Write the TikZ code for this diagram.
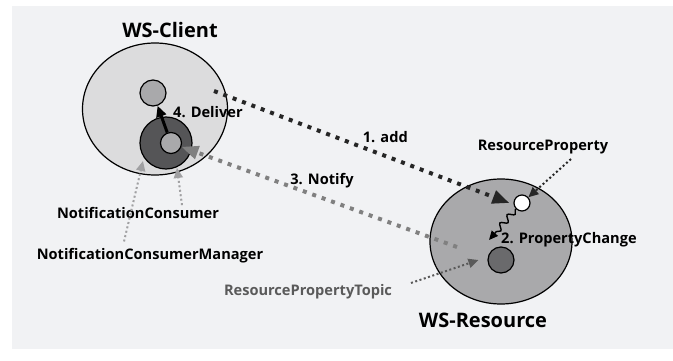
\documentclass[tikz,border=0pt]{standalone}
\usepackage{fontspec}
\setmainfont{Open Sans}
\usetikzlibrary{arrows.meta,shapes.geometric,decorations.pathmorphing,calc}

\definecolor{paper}{RGB}{241,242,244}
\definecolor{clientgray}{RGB}{220,220,221}
\definecolor{resgray}{RGB}{169,169,171}
\definecolor{ringgray}{RGB}{85,85,87}
\definecolor{topicgray}{RGB}{106,106,108}
\definecolor{notifygray}{RGB}{128,128,128}
\definecolor{hintgray}{RGB}{160,160,162}
\definecolor{textgray}{RGB}{90,90,90}

\tikzset{
    lbl/.style={font=\bfseries\fontsize{14.6}{16}\selectfont, inner sep=1pt},
    title/.style={font=\bfseries\fontsize{20}{22}\selectfont, inner sep=1pt},
    blob/.style={circle, draw=black, line width=1.2pt, inner sep=0pt},
    bigdots/.style={line width=4pt, dash pattern=on 4pt off 6pt,
        -{Triangle[length=17pt,width=13pt]}},
    smalldots/.style={line width=2pt, dash pattern=on 2pt off 2.5pt,
        -{Triangle[length=10pt,width=9pt]}},
}

\begin{document}
\begin{tikzpicture}[x=1pt,y=-1pt]
    \useasboundingbox (0,0) rectangle (673,361);
    \fill[paper] (12,6) rectangle (673,349);

    % Containers
    \node[ellipse, draw, line width=1.2pt, fill=clientgray,
        minimum width=145pt, minimum height=132pt] (client) at (155,109) {};
    \node[ellipse, draw, line width=1.2pt, fill=resgray,
        minimum width=142pt, minimum height=125pt] (resource) at (501,241.5) {};

    % Circles
    \node[blob, fill=resgray, minimum size=26pt] (clientobj) at (153,93) {};
    \node[blob, fill=ringgray, minimum size=52pt] (consumer) at (166,143) {};
    \node[blob, fill=resgray, minimum size=21pt] (consumerin) at (171,143) {};
    \node[blob, fill=white, minimum size=16pt] (resprop) at (522,203) {};
    \node[blob, fill=topicgray, minimum size=26pt] (topic) at (501,260) {};

    % Labels
    \node[title] (lblclient) at (170,30) {WS-Client};
    \node[title] (lblresource) at (483,320) {WS-Resource};
    \node[lbl] (lblconsumer) at (138,213) {NotificationConsumer};
    \node[lbl] (lblmanager) at (150,256) {NotificationConsumerManager};
    \node[lbl] (lblresprop) at (543,147) {ResourceProperty};
    \node[lbl, text=textgray] (lbltopic) at (308,292) {ResourcePropertyTopic};
    \node[lbl, anchor=west] (lbldeliver) at (172,112) {4. Deliver};
    \node[lbl, anchor=west] (lblchange) at (500,240) {2. PropertyChange};

    \coordinate (addstart) at (214,91);
    \coordinate (notifystart) at (457,247);
    \coordinate (changeend) at (489,240);
    \coordinate (rptail) at (571,159);
    \coordinate (topictail) at (411,283);
    \coordinate (mgrtail) at ($(lblmanager.north)+(-26,-6)$);
    \coordinate (constail) at ($(lblconsumer.north)+(44,-1)$);
    \coordinate (mgrtip) at (143,161);
    \coordinate (constip) at (177,168);

    % Messages
    \draw[bigdots, notifygray] (notifystart) -- (consumerin)
        node[lbl, text=black, pos=.49, above=7pt] (lblnotify) {3. Notify};
    \draw[bigdots, black!85] (addstart) -- ([xshift=-4pt]resprop.west)
        node[lbl, text=black, pos=.58, above=10pt] (lbladd) {1. add};
    \draw[line width=3pt, -{Triangle[length=11pt,width=10pt]}]
        (consumerin) -- (clientobj);
    \draw[line width=1.4pt, -{Triangle[length=9pt,width=8pt]},
        decorate, decoration={snake, amplitude=3pt, segment length=11pt,
        pre length=1pt, post length=7pt}]
        (resprop.south west) -- (changeend);

    % Pointers
    \draw[smalldots, black!85] (rptail) -- (resprop);
    \draw[smalldots, textgray] (topictail) -- ([xshift=-9pt]topic.west);
    \foreach \tail/\tip in {mgrtail/mgrtip, constail/constip} {
        \draw[smalldots, hintgray] (\tail) -- (\tip);
    }
\end{tikzpicture}
\end{document}
